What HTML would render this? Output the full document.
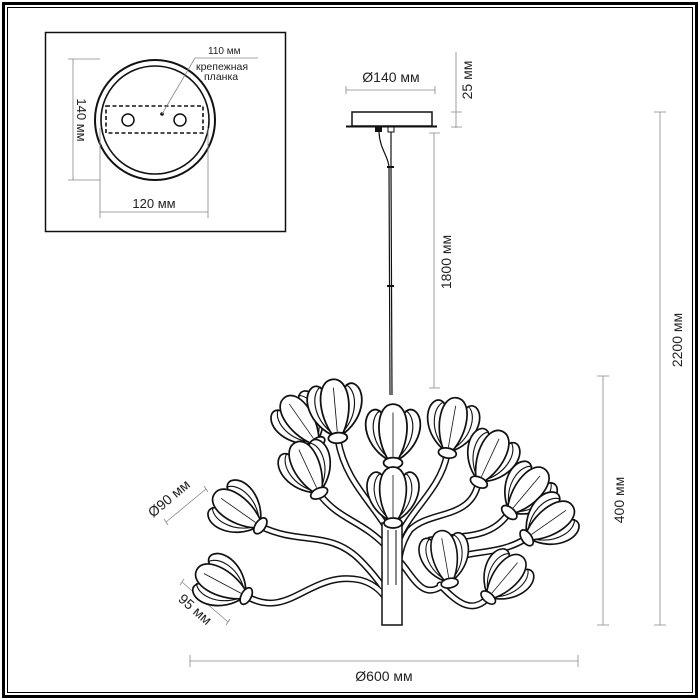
<!DOCTYPE html>
<html><head><meta charset="utf-8"><style>
html,body{margin:0;padding:0;background:#fff}
svg{display:block}
text{font-family:"Liberation Sans",sans-serif;fill:#222}
</style></head><body>
<svg width="700" height="700" viewBox="0 0 700 700" xmlns="http://www.w3.org/2000/svg">
<defs>
<g id="fl">
  <path d="M-3,-4 C-26,-16 -32,-44 -20,-52 C-8,-58 -2,-30 -1,-6 Z" fill="#fff" stroke="#111" stroke-width="1.7"/>
  <path d="M3,-4 C26,-16 32,-44 20,-52 C8,-58 2,-30 1,-6 Z" fill="#fff" stroke="#111" stroke-width="1.7"/>
  <path d="M-4,-4 C-18,-26 -16,-58 0,-58 C16,-58 18,-26 4,-4 Z" fill="#fff" stroke="#111" stroke-width="1.7"/>
  <path d="M-6,-8 C-22,-24 -22,-46 -12,-52" fill="none" stroke="#111" stroke-width="1.1"/>
  <path d="M6,-8 C22,-24 22,-46 12,-52" fill="none" stroke="#111" stroke-width="1.1"/>
  <path d="M0,-8 V-50" fill="none" stroke="#111" stroke-width="0.8"/>
  <ellipse cx="0" cy="-2" rx="9" ry="5" fill="#fff" stroke="#111" stroke-width="1.7"/>
</g>
</defs>
<rect x="3.5" y="3.5" width="693" height="693" fill="none" stroke="#000" stroke-width="3"/>
<rect x="7.5" y="7.5" width="685" height="685" fill="none" stroke="#000" stroke-width="1"/>
<rect x="45.5" y="32.5" width="240" height="199" fill="none" stroke="#111" stroke-width="1.5"/>
<circle cx="155" cy="120" r="60" fill="none" stroke="#111" stroke-width="2"/>
<circle cx="155" cy="120" r="54" fill="none" stroke="#111" stroke-width="1.6"/>
<rect x="106" y="106" width="97" height="27" fill="none" stroke="#111" stroke-width="1.6" stroke-dasharray="4,2.5"/>
<circle cx="128" cy="120" r="6" fill="none" stroke="#111" stroke-width="1.5"/>
<circle cx="180" cy="120" r="6" fill="none" stroke="#111" stroke-width="1.5"/>
<circle cx="162" cy="114" r="1.8" fill="#111"/>
<path d="M162,114 L195,58 L258,58" fill="none" stroke="#888" stroke-width="0.8"/>
<text x="208" y="54" font-size="10">110 мм</text>
<text x="196" y="70" font-size="10.5">крепежная</text>
<text x="204" y="80" font-size="10.5">планка</text>
<path d="M73,59 V180 M68,59 H100 M68,180 H100" stroke="#888" stroke-width="0.8" fill="none"/>
<text transform="translate(77,120) rotate(90)" text-anchor="middle" font-size="13">140 мм</text>
<path d="M100,212 H208 M100,128 V218 M208,128 V218" stroke="#888" stroke-width="0.8" fill="none"/>
<text x="154" y="208" text-anchor="middle" font-size="13">120 мм</text>
<path d="M346,90 H435 M346,86 V94 M435,86 V94" stroke="#888" stroke-width="0.8" fill="none"/>
<text x="391" y="82" text-anchor="middle" font-size="14">Ø140 мм</text>
<rect x="352" y="112" width="80" height="14" fill="#fff" stroke="#111" stroke-width="1.5"/>
<path d="M346,126.5 H437" stroke="#111" stroke-width="2"/>
<path d="M456,52 V128 M451,112 H462 M451,127 H462" stroke="#888" stroke-width="0.8" fill="none"/>
<text transform="translate(472,80) rotate(-90)" text-anchor="middle" font-size="14">25 мм</text>
<rect x="375" y="127" width="7" height="5" fill="#111"/>
<rect x="388" y="127" width="6" height="5" fill="#fff" stroke="#111" stroke-width="1"/>
<path d="M379,132 C380,150 388,155 389,167 L390,395" fill="none" stroke="#111" stroke-width="1.2"/>
<path d="M391,132 L391,167 L392,395" fill="none" stroke="#111" stroke-width="1.2"/>
<path d="M387,167 H394 M387,286 H394" stroke="#111" stroke-width="2"/>
<path d="M434,133 V388 M429,133 H440 M429,388 H440" stroke="#888" stroke-width="0.8" fill="none"/>
<text transform="translate(451,262) rotate(-90)" text-anchor="middle" font-size="14">1800 мм</text>
<path d="M660,112 V625 M654,112 H666 M654,625 H666" stroke="#888" stroke-width="0.8" fill="none"/>
<text transform="translate(682,340) rotate(-90)" text-anchor="middle" font-size="14">2200 мм</text>
<path d="M603,376 V625 M597,376 H609 M597,625 H609" stroke="#888" stroke-width="0.8" fill="none"/>
<text transform="translate(624,500) rotate(-90)" text-anchor="middle" font-size="14">400 мм</text>
<path d="M190,661 H578 M190,655 V667 M578,655 V667" stroke="#888" stroke-width="0.8" fill="none"/>
<text x="384" y="681" text-anchor="middle" font-size="14">Ø600 мм</text>
<path d="M166,522 L206,489 M164,519 L168,525 M204,486 L208,492" stroke="#888" stroke-width="0.8" fill="none"/>
<text transform="translate(172,502) rotate(-40)" text-anchor="middle" font-size="14">Ø90 мм</text>
<path d="M182,582 L228,622 M180,585 L184,579 M226,625 L230,619" stroke="#888" stroke-width="0.8" fill="none"/>
<text transform="translate(192,613) rotate(41)" text-anchor="middle" font-size="14">95 мм</text>
<g fill="none" stroke-linecap="round">
<g stroke="#111" stroke-width="7">
<path d="M262,527 C300,545 330,530 360,560 C375,575 385,590 392,600"/>
<path d="M248,597 C290,620 310,570 360,580 C380,585 388,600 392,610"/>
<path d="M320,495 C340,520 360,520 385,545"/>
<path d="M338,440 C345,480 370,500 388,530"/>
<path d="M447,455 C440,490 410,510 398,540"/>
<path d="M478,484 C470,520 430,510 410,530 C400,545 398,560 398,575"/>
<path d="M508,514 C490,540 460,535 430,540"/>
<path d="M525,539 C500,555 470,550 450,560"/>
<path d="M440,587 C420,600 410,570 398,560"/>
<path d="M487,599 C470,615 455,600 440,585"/>
</g>
<g stroke="#fff" stroke-width="4">
<path d="M262,527 C300,545 330,530 360,560 C375,575 385,590 392,600"/>
<path d="M248,597 C290,620 310,570 360,580 C380,585 388,600 392,610"/>
<path d="M320,495 C340,520 360,520 385,545"/>
<path d="M338,440 C345,480 370,500 388,530"/>
<path d="M447,455 C440,490 410,510 398,540"/>
<path d="M478,484 C470,520 430,510 410,530 C400,545 398,560 398,575"/>
<path d="M508,514 C490,540 460,535 430,540"/>
<path d="M525,539 C500,555 470,550 450,560"/>
<path d="M440,587 C420,600 410,570 398,560"/>
<path d="M487,599 C470,615 455,600 440,585"/>
</g>
</g>
<rect x="382" y="523" width="20" height="102" fill="#fff" stroke="#111" stroke-width="1.5"/>
<path d="M388,530 V585 M396,530 V585" stroke="#111" stroke-width="1"/>
<use href="#fl" transform="translate(318,445) rotate(-35)"/>
<use href="#fl" transform="translate(338,440) rotate(-5) scale(1.05)"/>
<use href="#fl" transform="translate(393,465) scale(1.05)"/>
<use href="#fl" transform="translate(447,455) rotate(10)"/>
<use href="#fl" transform="translate(478,484) rotate(25)"/>
<use href="#fl" transform="translate(320,495) rotate(-25)"/>
<use href="#fl" transform="translate(508,514) rotate(40)"/>
<use href="#fl" transform="translate(525,539) rotate(55)"/>
<use href="#fl" transform="translate(393,525) scale(1)"/>
<use href="#fl" transform="translate(450,585) rotate(-10) scale(0.95)"/>
<use href="#fl" transform="translate(487,599) rotate(40) scale(0.95)"/>
<use href="#fl" transform="translate(262,527) rotate(-55)"/>
<use href="#fl" transform="translate(248,597) rotate(-62)"/>
</svg>
</body></html>
